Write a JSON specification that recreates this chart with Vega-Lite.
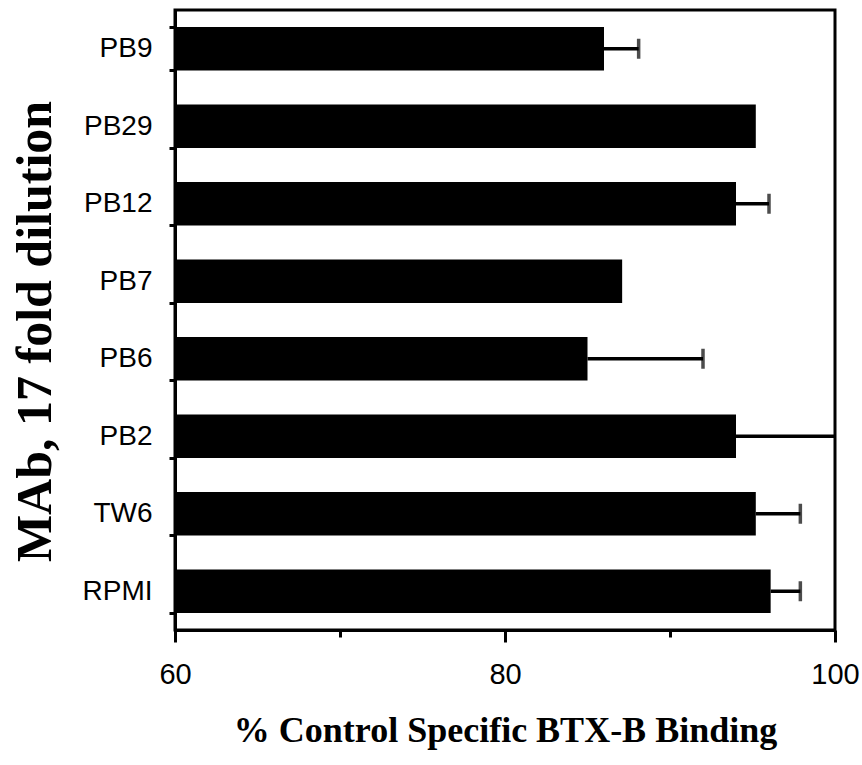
{
  "$schema": "https://vega.github.io/schema/vega-lite/v6.json",
  "width": 660,
  "height": 620,
  "autosize": "none",
  "padding": {"left": 175, "top": 10, "right": 27, "bottom": 135},
  "background": "white",
  "config": {
    "view": {"stroke": "black", "strokeWidth": 3}
  },
  "data": {
    "values": [
      {"mab": "PB9", "value": 86.0, "upper": 88.1},
      {"mab": "PB29", "value": 95.2, "upper": null},
      {"mab": "PB12", "value": 94.0, "upper": 96.0},
      {"mab": "PB7", "value": 87.1, "upper": null},
      {"mab": "PB6", "value": 85.0, "upper": 92.0},
      {"mab": "PB2", "value": 94.0, "upper": 101.0},
      {"mab": "TW6", "value": 95.2, "upper": 97.9},
      {"mab": "RPMI", "value": 96.1, "upper": 97.9}
    ]
  },
  "encoding": {
    "y": {
      "field": "mab", "type": "nominal", "sort": null,
      "scale": {"paddingInner": 0.44, "paddingOuter": 0.22},
      "axis": {
        "title": "MAb, 17 fold dilution",
        "titleFont": "Liberation Serif", "titleFontWeight": "bold", "titleFontSize": 50,
        "titleColor": "black", "titleX": -115, "titleY": 321,
        "labelFont": "Liberation Sans", "labelFontSize": 28, "labelPadding": 17, "labelColor": "black",
        "domainColor": "black", "domainWidth": 3,
        "tickColor": "black", "tickWidth": 3,
        "tickSize": 6, "tickBand": "extent", "grid": false
      }
    }
  },
  "layer": [
    {
      "mark": {"type": "bar", "color": "black", "clip": true},
      "encoding": {
        "x": {
          "field": "value", "type": "quantitative",
          "scale": {"domain": [60, 100], "nice": false, "zero": false},
          "axis": {
            "title": "% Control Specific BTX-B Binding",
            "titleFont": "Liberation Serif", "titleFontWeight": "bold", "titleFontSize": 36,
            "titleColor": "black", "titlePadding": 24,
            "values": [60, 70, 80, 90, 100],
            "labelExpr": "datum.value % 20 === 0 ? datum.label : ''",
            "labelFont": "Liberation Sans", "labelFontSize": 29, "labelPadding": 18, "labelColor": "black",
            "labelFlush": false,
            "domainColor": "black", "domainWidth": 3,
            "tickColor": "black", "tickWidth": 3, "grid": false,
            "tickSize": {"condition": {"test": "datum.value % 20 === 0", "value": 12}, "value": 7}
          }
        }
      }
    },
    {
      "transform": [{"filter": "datum.upper != null"}],
      "mark": {"type": "rule", "color": "black", "strokeWidth": 3.5, "clip": true},
      "encoding": {
        "x": {"field": "value", "type": "quantitative"},
        "x2": {"field": "upper"}
      }
    },
    {
      "transform": [{"filter": "datum.upper != null"}],
      "mark": {"type": "tick", "color": "black", "thickness": 3.5, "size": 20, "clip": true},
      "encoding": {
        "x": {"field": "upper", "type": "quantitative"}
      }
    }
  ]
}
